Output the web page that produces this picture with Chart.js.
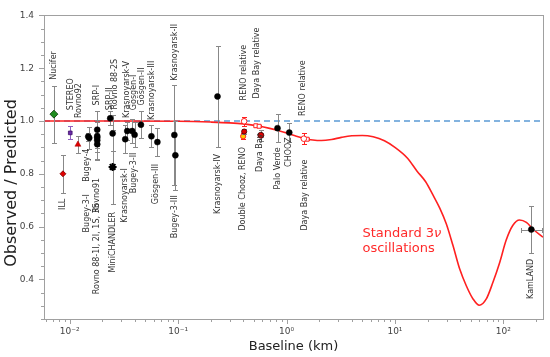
<!DOCTYPE html>
<html><head><meta charset="utf-8">
<script src="https://cdn.jsdelivr.net/npm/chart.js@4.4.0/dist/chart.umd.min.js"></script>
<style>html,body{margin:0;padding:0;background:#fff}canvas{display:block}</style>
</head><body>
<canvas id="c" width="550" height="357" style="width:550px;height:357px"></canvas>
<script>
// ---------------- DATA ----------------
// Baseline in km, observed/predicted ratio, symmetric error
const blackNames = ['Bugey-4','Bugey-3-I','SRP-I','Rovno91','Rovno 88-1I','Rovno 88-2I','Rovno 88-1S','SRP-II','Rovno 88-2S','Krasnoyarsk-I','Krasnoyarsk-V','Gösgen-I','Bugey-3-II','Gösgen-II','Krasnoyarsk-III','Gösgen-III','Krasnoyarsk-II','Bugey-3-III','Krasnoyarsk-IV','Palo Verde','CHOOZ'];
const blackL = [0.01484,0.01516,0.01796,0.01796,0.01796,0.01796,0.01796,0.02366,0.0249,0.03254,0.03397,0.03776,0.03972,0.04542,0.05674,0.06445,0.0924,0.0944,0.231,0.826,1.06];
const blackR = [0.941,0.936,0.967,0.943,0.937,0.927,0.912,1.010,0.953,0.931,0.962,0.962,0.948,0.986,0.942,0.920,0.947,0.870,1.093,0.973,0.956];
const blackErr = [0.015,0.042,0.070,0.060,0.030,0.070,0.060,0.027,0.068,0.053,0.035,0.045,0.048,0.050,0.042,0.054,0.190,0.130,0.190,0.052,0.035];

const nuciferL = [0.00716], nuciferR = [1.026], nuciferErr = [0.108];
const illL = [0.00867], illR = [0.800], illErr = [0.072];
const stereoL = [0.01013], stereoR = [0.955], stereoErr = [0.025];
const rovno92L = [0.01192], rovno92R = [0.911], rovno92Err = [0.034];
const miniChandlerL = [0.0249], miniChandlerR = [0.826], miniChandlerErr = [0.14];
const doubleChoozL = [0.407], doubleChoozR = [0.960], doubleChoozErr = [0.010];
const renoL = [0.398], renoR = [0.942], renoErr = [0.012];
const dayaBayL = [0.58], dayaBayR = [0.946], dayaBayErr = [0.020];
const renoRelL = [0.4067,1.444], renoRelR = [0.999,0.933], renoRelErr = [0.018,0.020];
const dayaBayRelL = [0.521,0.559,1.55], dayaBayRelR = [0.982,0.980,0.931], dayaBayRelErr = [0.004,0.004,0.004];
const kamlandL = [181], kamlandR = [0.589], kamlandErr = [0.090], kamlandLLo = [146.6], kamlandLHi = [226];

// Standard 3-nu oscillation curve
const curveL = [0.0058,0.03,0.1,0.2,0.3,0.4,0.55,0.7,0.85,1.0,1.2,1.45,1.75,2.1,2.6,3.2,4.0,5.0,6.3,8.0,10,13,16,19.2,22.4,25.9,29.8,34.2,39.5,45.6,52.5,60,69.6,80,92.2,106,122,141,163,188,232];
const curveR = [1.0,1.0,0.999,0.996,0.993,0.989,0.981,0.972,0.963,0.955,0.944,0.934,0.928,0.926,0.930,0.938,0.944,0.945,0.940,0.925,0.900,0.860,0.810,0.770,0.720,0.670,0.610,0.530,0.440,0.375,0.326,0.302,0.326,0.388,0.462,0.548,0.604,0.625,0.616,0.590,0.560];

// Axis ticks
const yTicks = [0.4,0.6,0.8,1.0,1.2,1.4];
const xTicks = [0.01,0.1,1,10,100];
const xTickLabels = ['10\u207B\u00B2','10\u207B\u00B9','10\u2070','10\u00B9','10\u00B2'];

// Rotated experiment labels: text, baseline (km), ratio where the text starts
const labelText = ['Nucifer','STEREO','Rovno92','SRP-I','SRP-II','Rovno 88-2S','Krasnoyarsk-V','Gösgen-I','Gösgen-II','Krasnoyarsk-III','Krasnoyarsk-II','RENO relative','Daya Bay relative','RENO relative',
  'ILL','Bugey-4','Bugey-3-I','Rovno91','Rovno 88-1I, 2I, 1S, 3S','MiniCHANDLER','Krasnoyarsk-I','Bugey-3-II','Gösgen-III','Bugey-3-III','Krasnoyarsk-IV','Double Chooz, RENO','Daya Bay','Palo Verde','CHOOZ','Daya Bay relative','KamLAND'];
const labelL = [0.00709,0.01028,0.01218,0.01774,0.0235,0.02616,0.03374,0.03915,0.04609,0.05699,0.09344,0.4067,0.5358,1.422,
  0.00873,0.01443,0.01443,0.01785,0.01785,0.0249,0.03268,0.03915,0.06243,0.09344,0.2312,0.398,0.5675,0.826,1.057,1.475,178.5];
const labelAt = [1.156,1.041,1.011,1.059,1.041,1.044,1.011,1.041,1.059,1.004,1.152,1.078,1.085,1.019,
  0.663,0.770,0.578,0.652,0.344,0.426,0.615,0.726,0.685,0.556,0.648,0.585,0.807,0.741,0.826,0.585,0.326];

const curveText = ['Standard 3', 'oscillations'];
const curveTextL = 5.02, curveTextR = [0.574, 0.515];

// ---------------- CHART ----------------
const FONT = 'DejaVu Sans';
Chart.defaults.font.family = FONT;
const pts = (L, R) => L.map((x, i) => ({x, y: R[i]}));

const errorBars = {
  id: 'errorBars',
  beforeDatasetDraw(chart, args) {
    const ds = chart.data.datasets[args.index];
    if (!ds.err) return;
    const xs = chart.scales.x, ys = chart.scales.y, ctx = chart.ctx;
    ctx.save();
    ctx.strokeStyle = ds.errColor || '#888';
    ctx.lineWidth = 1;
    ds.data.forEach((p, i) => {
      const e = ds.err[i];
      const px = Math.round(xs.getPixelForValue(p.x)) + 0.5;
      const y1 = Math.round(ys.getPixelForValue(p.y + e)) + 0.5;
      const y2 = Math.round(ys.getPixelForValue(p.y - e)) + 0.5;
      ctx.beginPath();
      ctx.moveTo(px, y1); ctx.lineTo(px, y2);
      ctx.moveTo(px - 2.5, y1); ctx.lineTo(px + 2.5, y1);
      ctx.moveTo(px - 2.5, y2); ctx.lineTo(px + 2.5, y2);
      if (ds.xLo) {
        const py = Math.round(ys.getPixelForValue(p.y)) + 0.5;
        const x1 = Math.round(xs.getPixelForValue(ds.xLo[i])) + 0.5;
        const x2 = Math.round(xs.getPixelForValue(ds.xHi[i])) + 0.5;
        ctx.moveTo(x1, py); ctx.lineTo(x2, py);
        ctx.moveTo(x1, py - 2.5); ctx.lineTo(x1, py + 2.5);
        ctx.moveTo(x2, py - 2.5); ctx.lineTo(x2, py + 2.5);
      }
      ctx.stroke();
    });
    ctx.restore();
  }
};

const frameAndText = {
  id: 'frameAndText',
  afterDraw(chart) {
    const {ctx, chartArea: a} = chart;
    const xs = chart.scales.x, ys = chart.scales.y;
    ctx.save();
    // frame
    ctx.strokeStyle = '#a0a0a0'; ctx.lineWidth = 1;
    ctx.strokeRect(Math.round(a.left) + 0.5, Math.round(a.top) + 0.5, Math.round(a.right - a.left), Math.round(a.bottom - a.top));
    // ticks y
    ctx.beginPath();
    for (let v = 0.25; v <= 1.4001; v += 0.05) {
      const y = Math.round(ys.getPixelForValue(v)) + 0.5;
      const major = yTicks.some(t => Math.abs(t - v) < 1e-6);
      ctx.moveTo(a.left, y); ctx.lineTo(a.left - (major ? 5 : 3), y);
    }
    // ticks x
    for (let d = -3; d <= 2; d++) {
      for (let m = 1; m <= 9; m++) {
        const v = m * Math.pow(10, d);
        if (v < xs.min || v > xs.max) continue;
        const x = Math.round(xs.getPixelForValue(v)) + 0.5;
        ctx.moveTo(x, a.bottom); ctx.lineTo(x, a.bottom + (m === 1 ? 5 : 3));
      }
    }
    ctx.stroke();
    // experiment labels
    ctx.fillStyle = '#333';
    ctx.font = '8px "DejaVu Sans"';
    ctx.textAlign = 'left'; ctx.textBaseline = 'middle';
    labelText.forEach((t, i) => {
      const px = xs.getPixelForValue(labelL[i]);
      const py = ys.getPixelForValue(labelAt[i]);
      ctx.save(); ctx.translate(px, py); ctx.rotate(-Math.PI / 2);
      ctx.fillText(t, 0, 0); ctx.restore();
    });
    // curve annotation
    ctx.fillStyle = '#ff2a2a';
    ctx.font = '13px "DejaVu Sans"';
    const tx = xs.getPixelForValue(curveTextL);
    const ty0 = ys.getPixelForValue(curveTextR[0]);
    ctx.fillText(curveText[0], tx, ty0);
    const w0 = ctx.measureText(curveText[0]).width;
    ctx.font = 'italic 13px "DejaVu Sans"';
    ctx.fillText('\u03BD', tx + w0, ty0);
    ctx.font = '13px "DejaVu Sans"';
    ctx.fillText(curveText[1], tx, ys.getPixelForValue(curveTextR[1]));
    // axis titles
    ctx.fillStyle = '#222';
    ctx.textAlign = 'center';
    ctx.font = '13px "DejaVu Sans"';
    ctx.fillText('Baseline (km)', (a.left + a.right) / 2, 347);
    ctx.save(); ctx.translate(12, 183); ctx.rotate(-Math.PI / 2);
    ctx.font = '16px "DejaVu Sans"';
    ctx.fillText('Observed / Predicted', 0, 0); ctx.restore();
    ctx.restore();
  }
};

const RED = '#ff2020';
new Chart(document.getElementById('c'), {
  type: 'scatter',
  data: {
    datasets: [
      {data: pts(blackL, blackR), err: blackErr, pointStyle: 'circle', pointRadius: 3, backgroundColor: '#000', borderColor: '#000', borderWidth: 0.5},
      {data: pts(kamlandL, kamlandR), err: kamlandErr, xLo: kamlandLLo, xHi: kamlandLHi, pointStyle: 'circle', pointRadius: 3, backgroundColor: '#000', borderColor: '#000', borderWidth: 0.5},
      {data: pts(nuciferL, nuciferR), err: nuciferErr, pointStyle: 'rectRot', pointRadius: 4, backgroundColor: '#1e8c1e', borderColor: '#0a3a0a', borderWidth: 0.8},
      {data: pts(illL, illR), err: illErr, pointStyle: 'rectRot', pointRadius: 3, backgroundColor: '#e00000', borderColor: '#800000', borderWidth: 0.8},
      {data: pts(stereoL, stereoR), err: stereoErr, errColor: '#9060c0', pointStyle: 'rect', pointRadius: 2.6, backgroundColor: '#6a2aa8', borderColor: '#40106a', borderWidth: 0.8},
      {data: pts(rovno92L, rovno92R), err: rovno92Err, pointStyle: 'triangle', pointRadius: 3.5, backgroundColor: '#e00000', borderColor: '#a00000', borderWidth: 0.5},
      {data: pts(miniChandlerL, miniChandlerR), err: miniChandlerErr, pointStyle: 'star', pointRadius: 4, backgroundColor: '#000', borderColor: '#000', borderWidth: 2},
      {data: pts(doubleChoozL, doubleChoozR), err: doubleChoozErr, pointStyle: 'circle', pointRadius: 2.6, backgroundColor: '#e00000', borderColor: '#400000', borderWidth: 0.8},
      {data: pts(renoL, renoR), err: renoErr, errColor: RED, pointStyle: 'circle', pointRadius: 2.6, backgroundColor: '#ffcc00', borderColor: RED, borderWidth: 1},
      {data: pts(dayaBayL, dayaBayR), err: dayaBayErr, pointStyle: 'circle', pointRadius: 3, backgroundColor: '#e00000', borderColor: '#300000', borderWidth: 0.8},
      {data: pts(renoRelL, renoRelR), err: renoRelErr, errColor: RED, pointStyle: 'circle', pointRadius: 2.8, backgroundColor: '#fff', borderColor: RED, borderWidth: 1},
      {data: pts(dayaBayRelL, dayaBayRelR), err: dayaBayRelErr, errColor: RED, pointStyle: 'rect', pointRadius: 2.8, backgroundColor: '#fff', borderColor: RED, borderWidth: 1},
      {data: pts(curveL, curveR), showLine: true, pointRadius: 0, borderColor: RED, borderWidth: 1.6, cubicInterpolationMode: 'monotone', fill: false},
      {data: [{x: 0.0058, y: 1}, {x: 232, y: 1}], showLine: true, pointRadius: 0, borderColor: '#5b9bd5', borderWidth: 1.5, borderDash: [6, 4], fill: false}
    ]
  },
  options: {
    responsive: false, animation: false, devicePixelRatio: 1, events: [],
    layout: {padding: {left: 0, right: 7, top: 10, bottom: 0}},
    plugins: {legend: {display: false}, tooltip: {enabled: false}},
    scales: {
      x: {
        type: 'logarithmic', min: 0.0058, max: 232,
        afterBuildTicks(s) { s.ticks = xTicks.map(v => ({value: v})); },
        afterFit(s) { s.height = 38; },
        grid: {display: false, drawTicks: false}, border: {display: false},
        ticks: {font: {size: 9}, color: '#444', padding: 7, maxRotation: 0, autoSkip: false,
          callback: (v) => { const i = xTicks.findIndex(t => Math.abs(t - v) / t < 1e-6); return i >= 0 ? xTickLabels[i] : ''; }}
      },
      y: {
        min: 0.25, max: 1.4,
        afterBuildTicks(s) { s.ticks = yTicks.map(v => ({value: v})); },
        afterFit(s) { s.width = 44; },
        grid: {display: false, drawTicks: false}, border: {display: false},
        ticks: {font: {size: 9}, color: '#444', padding: 10, callback: (v) => Number(v).toFixed(1)}
      }
    }
  },
  plugins: [errorBars, frameAndText]
});
</script>
</body></html>
